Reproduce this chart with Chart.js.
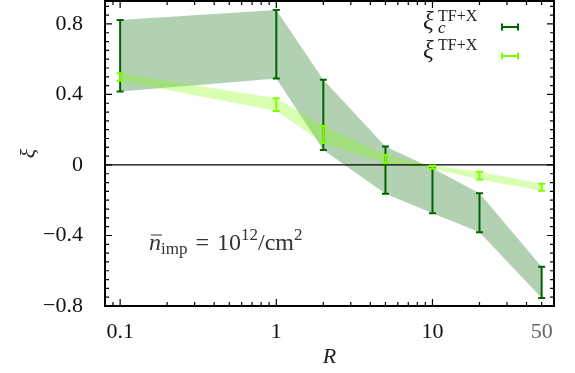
<!DOCTYPE html>
<html>
<head>
<meta charset="UTF-8">
<script src="https://cdn.jsdelivr.net/npm/chart.js"></script>
<style>
  html, body { margin: 0; padding: 0; background: white; }
  .chart-box { width: 575px; height: 373px; }
</style>
</head>
<body>
<div class="chart-box"><canvas id="xiChart"></canvas></div>
<script>
// data
const R = [0.1, 1, 2, 5, 10, 20, 50];
const xiCLow  = [0.416, 0.490, 0.085, -0.164, -0.274, -0.382, -0.755];
const xiCHigh = [0.822, 0.879, 0.484, 0.104, -0.019, -0.161, -0.577];
const xiLow   = [0.478, 0.306, 0.125, 0.011, -0.022, -0.083, -0.146];
const xiHigh  = [0.520, 0.378, 0.221, 0.057, -0.005, -0.038, -0.106];
const xTicks = [0.1, 1, 10, 50];
const yTicks = [-0.8, -0.4, 0, 0.4, 0.8];

const serif = '"Liberation Serif", "DejaVu Serif", serif';
const darkGreen = '#006400';
const lightGreen = '#7fff00';

function pts(arr) {
    return R.map(function(r, i) { return {x: r, y: arr[i]}; });
}

const decor = {
    id: 'decor',
    afterDatasetsDraw: function(chart) {
        const ctx = chart.ctx;
        const xs = chart.scales.x, ys = chart.scales.y;
        const a = chart.chartArea;
        ctx.save();
        // zero line
        ctx.strokeStyle = '#000';
        ctx.lineWidth = 1.2;
        ctx.beginPath();
        ctx.moveTo(a.left, ys.getPixelForValue(0));
        ctx.lineTo(a.right, ys.getPixelForValue(0));
        ctx.stroke();

        // error bars
        function bars(lo, hi, color) {
            ctx.strokeStyle = color;
            ctx.lineWidth = 2;
            for (let i = 0; i < R.length; i++) {
                const x = xs.getPixelForValue(R[i]);
                const y1 = ys.getPixelForValue(lo[i]);
                const y2 = ys.getPixelForValue(hi[i]);
                ctx.beginPath();
                ctx.moveTo(x, y1); ctx.lineTo(x, y2);
                ctx.moveTo(x - 3.5, y1); ctx.lineTo(x + 3.5, y1);
                ctx.moveTo(x - 3.5, y2); ctx.lineTo(x + 3.5, y2);
                ctx.stroke();
            }
        }
        bars(xiCLow, xiCHigh, darkGreen);
        bars(xiLow, xiHigh, lightGreen);

        // frame
        ctx.strokeStyle = '#000';
        ctx.lineWidth = 2;
        ctx.strokeRect(a.left, a.top, a.right - a.left, a.bottom - a.top);

        // inward ticks
        ctx.lineWidth = 1.2;
        ctx.beginPath();
        for (let k = -16; k <= 18; k++) {
            const v = k * 0.05;
            const y = ys.getPixelForValue(v);
            const len = (k % 8 === 0) ? 7 : 4;
            ctx.moveTo(a.left, y); ctx.lineTo(a.left + len, y);
            ctx.moveTo(a.right, y); ctx.lineTo(a.right - len, y);
        }
        const decades = [0.01, 0.1, 1, 10];
        decades.forEach(function(d) {
            for (let m = 1; m <= 9; m++) {
                const v = d * m;
                if (v < xs.min || v > xs.max) continue;
                const x = xs.getPixelForValue(v);
                const len = (m === 1) ? 7 : 4;
                ctx.moveTo(x, a.bottom); ctx.lineTo(x, a.bottom - len);
                ctx.moveTo(x, a.top); ctx.lineTo(x, a.top + len);
            }
        });
        ctx.stroke();

        // legend
        ctx.fillStyle = '#222';
        ctx.textBaseline = 'alphabetic';
        ctx.font = 'italic 25px ' + serif;
        ctx.fillText('ξ', 423, 29);
        ctx.fillText('ξ', 423, 58);
        ctx.font = '16px ' + serif;
        ctx.fillText('TF+X', 438, 21);
        ctx.fillText('TF+X', 438, 50);
        ctx.font = 'italic 17px ' + serif;
        ctx.fillText('c', 438, 33);
        function legendBar(y, color) {
            ctx.strokeStyle = color;
            ctx.lineWidth = 2;
            ctx.beginPath();
            ctx.moveTo(502, y); ctx.lineTo(518, y);
            ctx.moveTo(502, y - 3.5); ctx.lineTo(502, y + 3.5);
            ctx.moveTo(518, y - 3.5); ctx.lineTo(518, y + 3.5);
            ctx.stroke();
        }
        legendBar(27, darkGreen);
        legendBar(56, lightGreen);

        // annotation
        ctx.fillStyle = '#333';
        let x = 149;
        const base = 250;
        ctx.font = 'italic 24px ' + serif;
        ctx.fillText('n', x, base);
        const nw = ctx.measureText('n').width;
        ctx.strokeStyle = '#333';
        ctx.lineWidth = 1;
        ctx.beginPath();
        ctx.moveTo(x + 2, base - 15); ctx.lineTo(x + nw + 1, base - 15);
        ctx.stroke();
        x += nw;
        ctx.font = '17px ' + serif;
        ctx.fillText('imp', x, base + 4);
        x += ctx.measureText('imp').width + 8;
        ctx.font = '24px ' + serif;
        ctx.fillText('=', x, base);
        x += ctx.measureText('=').width + 8;
        ctx.fillText('10', x, base);
        x += ctx.measureText('10').width;
        ctx.font = '17px ' + serif;
        ctx.fillText('12', x, base - 10);
        x += ctx.measureText('12').width;
        ctx.font = '24px ' + serif;
        ctx.fillText('/cm', x, base);
        x += ctx.measureText('/cm').width;
        ctx.font = '17px ' + serif;
        ctx.fillText('2', x, base - 10);
        ctx.restore();
    }
};

const ctx = document.getElementById('xiChart').getContext('2d');
const xiChart = new Chart(ctx, {
    type: 'line',
    data: {
        datasets: [{
            data: pts(xiHigh),
            borderWidth: 0,
            pointRadius: 0,
            fill: '+1',
            backgroundColor: 'rgba(127, 255, 0, 0.3)'
        }, {
            data: pts(xiLow),
            borderWidth: 0,
            pointRadius: 0,
            fill: false
        }, {
            data: pts(xiCHigh),
            borderWidth: 0,
            pointRadius: 0,
            fill: '+1',
            backgroundColor: 'rgba(0, 100, 0, 0.3)'
        }, {
            data: pts(xiCLow),
            borderWidth: 0,
            pointRadius: 0,
            fill: false
        }]
    },
    options: {
        responsive: true,
        maintainAspectRatio: false,
        animation: false,
        layout: { padding: { left: 0, top: 1, right: 21, bottom: 0 } },
        plugins: { legend: { display: false }, tooltip: { enabled: false } },
        scales: {
            x: {
                type: 'logarithmic',
                min: 0.08,
                max: 60,
                grid: { display: false },
                border: { display: false },
                afterBuildTicks: function(s) { s.ticks = xTicks.map(function(v) { return {value: v}; }); },
                afterFit: function(s) { s.height = 67; s.paddingLeft = 0; s.paddingRight = 0; },
                ticks: {
                    autoSkip: false,
                    maxRotation: 0,
                    padding: 5,
                    font: { family: serif, size: 22 },
                    color: function(c) { return c.tick && c.tick.value === 50 ? '#666' : '#111'; },
                    callback: function(v) { return String(v); }
                },
                title: {
                    display: true,
                    text: 'R',
                    font: { family: serif, size: 22, style: 'italic' },
                    color: '#222',
                    padding: { top: 0, bottom: 3 }
                }
            },
            y: {
                min: -0.8,
                max: 0.93,
                grid: { display: false },
                border: { display: false },
                afterBuildTicks: function(s) { s.ticks = yTicks.map(function(v) { return {value: v}; }); },
                afterFit: function(s) { s.width = 105; s.paddingTop = 0; s.paddingBottom = 0; },
                ticks: {
                    padding: 14,
                    font: { family: serif, size: 22 },
                    color: '#111',
                    callback: function(v) {
                        const t = String(Math.round(Math.abs(v) * 10) / 10);
                        return v < 0 ? '\u2212' + t : t;
                    }
                },
                title: {
                    display: true,
                    text: 'ξ',
                    font: { family: serif, size: 22, style: 'italic' },
                    color: '#222',
                    padding: { top: 16, bottom: 0 }
                }
            }
        }
    },
    plugins: [decor]
});
</script>
</body>
</html>
